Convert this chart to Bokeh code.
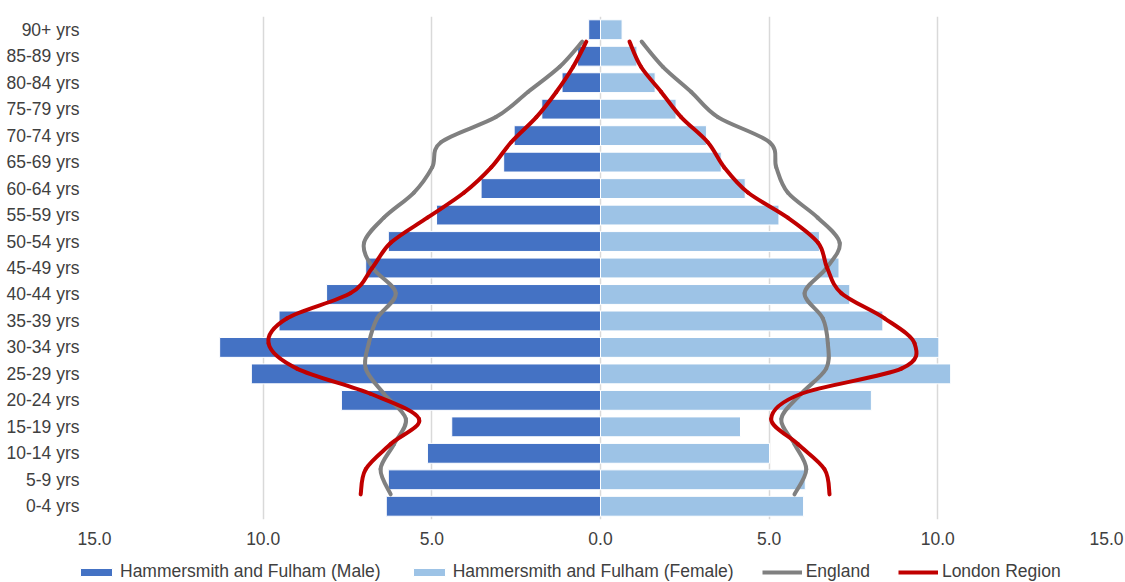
import numpy as np
from bokeh.plotting import figure
from bokeh.layouts import column
from bokeh.models import (Range1d, FixedTicker, Legend, LegendItem, ColumnDataSource)
from bokeh.embed import file_html
from bokeh.resources import INLINE

# ---------------- data ----------------
ages = ["0-4 yrs", "5-9 yrs", "10-14 yrs", "15-19 yrs", "20-24 yrs", "25-29 yrs",
        "30-34 yrs", "35-39 yrs", "40-44 yrs", "45-49 yrs", "50-54 yrs", "55-59 yrs",
        "60-64 yrs", "65-69 yrs", "70-74 yrs", "75-79 yrs", "80-84 yrs", "85-89 yrs",
        "90+ yrs"]

male = [6.35, 6.29, 5.13, 4.41, 7.68, 10.35, 11.29, 9.53, 8.12, 6.96, 6.29, 4.86,
        3.54, 2.87, 2.56, 1.74, 1.14, 0.68, 0.35]
female = [6.02, 6.07, 5.01, 4.15, 8.03, 10.38, 10.03, 8.37, 7.39, 7.07, 6.49, 5.29,
          4.29, 3.58, 3.14, 2.24, 1.62, 1.08, 0.64]

england_male = [6.22, 6.52, 6.12, 5.77, 6.42, 6.96, 6.87, 6.62, 6.07, 6.75, 7.01, 6.42,
                5.53, 4.99, 4.73, 3.10, 2.15, 1.21, 0.54]
england_female = [5.75, 6.10, 5.75, 5.36, 5.95, 6.69, 6.74, 6.59, 6.05, 6.70, 7.09, 6.44,
                  5.55, 5.21, 5.01, 3.48, 2.69, 1.85, 1.22]
london_male = [7.11, 6.96, 6.22, 5.38, 6.82, 9.00, 9.84, 9.29, 7.41, 6.77, 6.22, 5.13,
               4.04, 3.24, 2.65, 1.90, 1.31, 0.81, 0.42]
london_female = [6.79, 6.64, 5.85, 5.06, 5.95, 8.92, 9.31, 8.42, 7.14, 6.72, 6.45, 5.55,
                 4.37, 3.67, 3.18, 2.39, 1.80, 1.20, 0.86]

series_names = ["Hammersmith and Fulham (Male)", "Hammersmith and Fulham (Female)",
                "England", "London Region"]

# secondary (scatter) axis positions of the line series, axis range 0..20
line_pos = list(range(1, 20))
line_axis = (0, 20)

x_ticks = [-15, -10, -5, 0, 5, 10, 15]
x_tick_labels = ["15.0", "10.0", "5.0", "0.0", "5.0", "10.0", "15.0"]

FONT = "Liberation Sans"
FSIZE = "17.5px"
TXT = "#404040"
C_MALE = "#4472C4"
C_FEMALE = "#9DC3E6"
C_ENG = "#808080"
C_LON = "#C00000"

# category slots: one unit per age band, bar centred in its slot
n_cat = len(ages)
cat_pos = [i + 0.5 for i in range(n_cat)]

# ---------------- main figure ----------------
p = figure(width=1125, height=560, output_backend="svg", toolbar_location=None,
           y_range=Range1d(0, n_cat), x_range=Range1d(-15, 15),
           min_border_left=94, min_border_right=19, min_border_top=16,
           min_border_bottom=41)
p.extra_y_ranges = {"line": Range1d(*line_axis)}
p.outline_line_color = None
p.background_fill_color = "white"
p.border_fill_color = "white"

p.ygrid.grid_line_color = None
p.xgrid.grid_line_color = "#d9d9d9"
p.xgrid.grid_line_width = 1.5
p.xaxis.ticker = FixedTicker(ticks=x_ticks)
p.xaxis.major_label_overrides = {t: l for t, l in zip(x_ticks, x_tick_labels)}
p.yaxis.ticker = FixedTicker(ticks=cat_pos)
p.yaxis.major_label_overrides = {t: l for t, l in zip(cat_pos, ages)}

for ax in (p.xaxis[0], p.yaxis[0]):
    ax.axis_line_color = None
    ax.major_tick_line_color = None
    ax.minor_tick_line_color = None
    ax.major_tick_out = 0
    ax.major_tick_in = 0
    ax.minor_tick_out = 0
    ax.minor_tick_in = 0
    ax.major_label_text_font = FONT
    ax.major_label_text_font_size = FSIZE
    ax.major_label_text_color = TXT
p.xaxis.major_label_standoff = 12
p.yaxis.major_label_standoff = 15

src = ColumnDataSource(dict(pos=cat_pos, age=ages,
                            mleft=[-v for v in male],
                            fright=female))
bar_m = dict(y="pos", left="mleft", right=0, height=0.75, source=src,
             fill_color=C_MALE, line_color="white", line_width=1)
bar_f = dict(y="pos", left=0, right="fright", height=0.75, source=src,
             fill_color=C_FEMALE, line_color="white", line_width=1)
p.hbar(**bar_m)
p.hbar(**bar_f)


def smooth_segments(xs, ys):
    P = np.column_stack([np.asarray(xs, float), np.asarray(ys, float)])
    n = len(P)
    out = {k: [] for k in ("x0", "y0", "x1", "y1", "cx0", "cy0", "cx1", "cy1")}
    for i in range(n - 1):
        p0 = P[max(i - 1, 0)]
        p1 = P[i]
        p2 = P[i + 1]
        p3 = P[min(i + 2, n - 1)]
        c1 = p1 + (p2 - p0) / 6.0
        c2 = p2 - (p3 - p1) / 6.0
        out["x0"].append(p1[0]); out["y0"].append(p1[1])
        out["x1"].append(p2[0]); out["y1"].append(p2[1])
        out["cx0"].append(c1[0]); out["cy0"].append(c1[1])
        out["cx1"].append(c2[0]); out["cy1"].append(c2[1])
    return ColumnDataSource(out)


def draw_curve(fig, values, sign, color):
    s = smooth_segments([sign * v for v in values], line_pos)
    return fig.bezier(x0="x0", y0="y0", x1="x1", y1="y1", cx0="cx0", cy0="cy0",
                      cx1="cx1", cy1="cy1", source=s, line_color=color,
                      line_width=4, line_cap="round", y_range_name="line")


draw_curve(p, england_male, -1, C_ENG)
draw_curve(p, england_female, 1, C_ENG)
draw_curve(p, london_male, -1, C_LON)
draw_curve(p, london_female, 1, C_LON)

# ---------------- legend strip (keys drawn from the same data, out of view) ----------
lg = figure(width=1125, height=22, output_backend="svg", toolbar_location=None,
            x_range=Range1d(-15, 15), y_range=Range1d(100, 101),
            min_border_left=0, min_border_right=0, min_border_top=0,
            min_border_bottom=0)
lg.frame_align = False
p.frame_align = False
lg.extra_y_ranges = {"line": Range1d(100, 101)}
lg.axis.visible = False
lg.grid.visible = False
lg.outline_line_color = None
lg.border_fill_color = "white"
lg.background_fill_color = "white"

k_m = lg.hbar(**bar_m)
k_f = lg.hbar(**bar_f)
k_e = lg.line(x=[-v for v in england_male], y=line_pos, line_color=C_ENG,
              line_width=4, y_range_name="line")
k_l = lg.line(x=[-v for v in london_male], y=line_pos, line_color=C_LON,
              line_width=4, y_range_name="line")

legend = Legend(items=[LegendItem(label=n, renderers=[r]) for n, r in
                       zip(series_names, [k_m, k_f, k_e, k_l])],
                orientation="horizontal", location=(76, 0), spacing=28,
                glyph_width=40, glyph_height=10, label_standoff=4, label_height=20,
                padding=0, margin=0, border_line_color=None, background_fill_alpha=0,
                label_text_font=FONT, label_text_font_size=FSIZE,
                label_text_color=TXT)
lg.add_layout(legend, "center")

layout = column(p, lg, spacing=0)
open("out.html", "w").write(file_html(layout, INLINE))
